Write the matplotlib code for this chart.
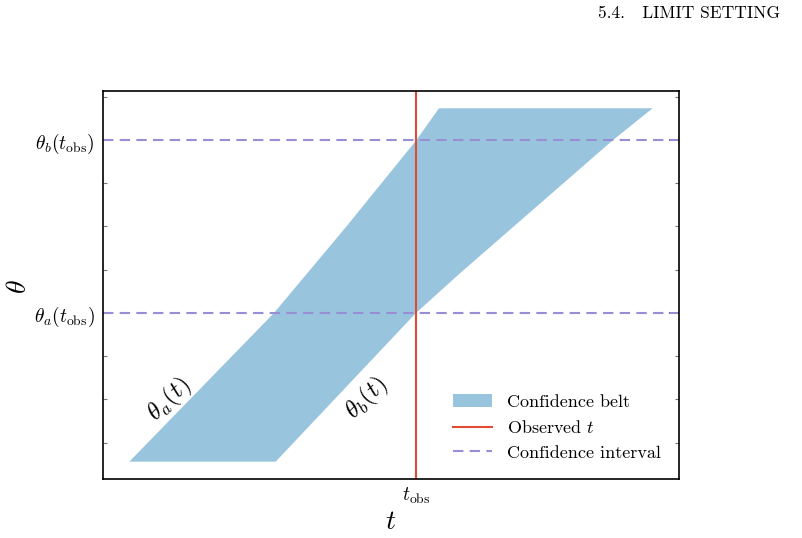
import numpy as np
import matplotlib
matplotlib.use("Agg")
import matplotlib.pyplot as plt
from matplotlib.ticker import MultipleLocator, FixedLocator

plt.rcParams['font.family'] = 'serif'
plt.rcParams['font.serif'] = ['cmr10']
plt.rcParams['mathtext.fontset'] = 'cm'
plt.rcParams['axes.formatter.use_mathtext'] = True

# belt boundaries (t, theta)
theta_a_t = [0.457, 2.969, 4.219, 5.434, 5.833]
theta_a_y = [0.562, 4.0, 5.988, 7.984, 8.733]
theta_b_t = [2.998, 5.434, 6.198, 8.842, 9.543]
theta_b_y = [0.562, 4.0, 4.918, 7.984, 8.733]

t_obs = 5.434
theta_a_obs = 4.0
theta_b_obs = 8.0

fig = plt.figure(figsize=(8.02, 5.38), dpi=100)
ax = fig.add_axes([0.1284, 0.1097, 0.7182, 0.7212])

# closed polygon: left edge up, right edge down
poly_t = theta_a_t + theta_b_t[::-1]
poly_y = theta_a_y + theta_b_y[::-1]
ax.fill(poly_t, poly_y, color='#348ABD', alpha=0.5, lw=0, label='Confidence belt')

ax.axvline(t_obs, color='#E24A33', lw=1.5, label='Observed $t$')
ax.axhline(theta_a_obs, color='#988ED5', lw=1.5, ls=(0, (5, 3)), label='Confidence interval')
ax.axhline(theta_b_obs, color='#988ED5', lw=1.5, ls=(0, (5, 3)))

ax.text(1.15, 2.0, r'$\theta_a(t)$', rotation=45, fontsize=18, ha='center', va='center')
ax.text(4.59, 2.03, r'$\theta_b(t)$', rotation=45, fontsize=18, ha='center', va='center')

ax.set_xlim(0, 10)
ax.set_ylim(0.162, 9.133)

ax.xaxis.set_major_locator(FixedLocator([t_obs]))
ax.set_xticklabels([r'$t_{\rm obs}$'])
ax.yaxis.set_major_locator(FixedLocator([theta_a_obs, theta_b_obs]))
ax.set_yticklabels([r'$\theta_a(t_{\rm obs})$', r'$\theta_b(t_{\rm obs})$'])
ax.yaxis.set_minor_locator(MultipleLocator(1))

ax.tick_params(which='both', direction='in', top=True, right=True, labelsize=14)
ax.tick_params(axis='y', pad=6)
ax.tick_params(axis='x', pad=5)
ax.tick_params(which='major', length=7, width=1.2, color='#444444')
ax.tick_params(which='minor', length=3, width=0.8, color='#777777')
for s in ax.spines.values():
    s.set_linewidth(1.2)
    s.set_color('black')

ax.set_xlabel('$t$', fontsize=20, labelpad=2)
ax.set_ylabel(r'$\theta$', fontsize=20)
ax.yaxis.set_label_coords(-0.123, 0.495)

ax.legend(loc='lower right', frameon=False, fontsize=13, handlelength=2.2,
          handletextpad=0.8, borderaxespad=0.62, labelspacing=0.5)

fig.text(0.973, 0.975, '5.4.   LIMIT SETTING', ha='right', va='center', fontsize=12.5)

fig.savefig('out.png', dpi=100)
